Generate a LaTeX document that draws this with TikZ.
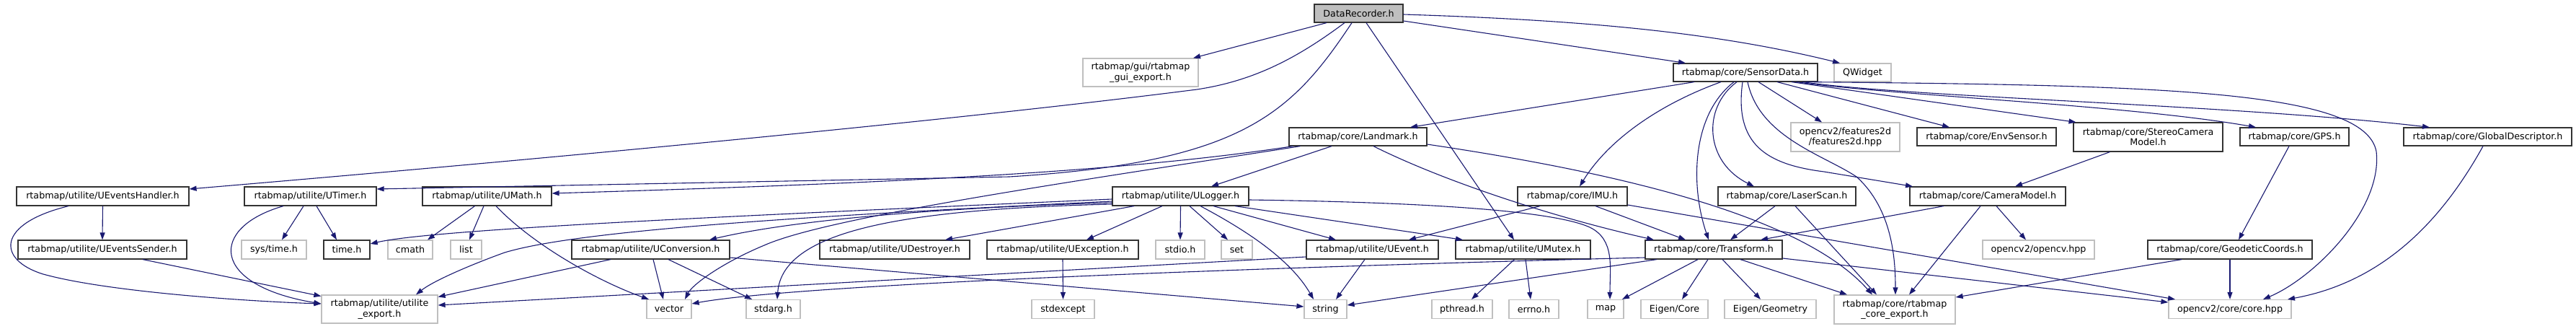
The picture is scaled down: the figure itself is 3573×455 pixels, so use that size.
\documentclass[tikz,border=0pt]{standalone}
\usepackage{fontspec}
\setmainfont{DejaVu Sans}
\usetikzlibrary{arrows.meta,positioning}
\definecolor{edgeblue}{RGB}{25,25,112}
\definecolor{extgray}{RGB}{191,191,191}

\begin{document}
\begin{tikzpicture}[x=1pt, y=-1pt]
    % Styles for the headers
    \tikzstyle{hdr}=[draw=black!80, line width=1.2pt, fill=white, minimum height=26pt, inner sep=0pt, align=center, font=\fontsize{12.7pt}{14.5pt}\selectfont]
    \tikzstyle{ext}=[hdr, draw=extgray]
    \tikzstyle{root}=[hdr, fill=extgray]
    \tikzstyle{inc}=[draw=edgeblue, line width=1.1pt, -{Triangle[length=10pt,width=7pt]}]

    \useasboundingbox (0,0) rectangle (3573,455);

    % Top
    \node[root, minimum width=123pt, minimum height=25pt] (datarec) at (1884.5,18.5) {DataRecorder.h};
    \node[ext, minimum width=160pt, minimum height=39pt] (guiexp) at (1582,100.5) {rtabmap/gui/rtabmap\\\_gui\_export.h};
    \node[hdr, minimum width=200pt, minimum height=25pt] (sensordata) at (2421,100.5) {rtabmap/core/SensorData.h};
    \node[ext, minimum width=79pt, minimum height=25pt] (qwidget) at (2583.5,100.5) {QWidget};

    % Row 2
    \node[hdr, minimum width=191pt, minimum height=25pt] (landmark) at (1883.5,189.5) {rtabmap/core/Landmark.h};
    \node[ext, minimum width=151pt, minimum height=40pt] (feat2d) at (2559.5,190) {opencv2/features2d\\/features2d.hpp};
    \node[hdr, minimum width=193pt, minimum height=25pt] (envsensor) at (2755.5,189.5) {rtabmap/core/EnvSensor.h};
    \node[hdr, minimum width=207pt, minimum height=40pt] (stereo) at (2979.5,190) {rtabmap/core/StereoCamera\\Model.h};
    \node[hdr, minimum width=151pt, minimum height=25pt] (gps) at (3182.5,189.5) {rtabmap/core/GPS.h};
    \node[hdr, minimum width=233pt, minimum height=25pt] (globdesc) at (3450.5,189.5) {rtabmap/core/GlobalDescriptor.h};

    % Row 3
    \node[hdr, minimum width=239pt] (evhandler) at (142.5,272) {rtabmap/utilite/UEventsHandler.h};
    \node[hdr, minimum width=183pt] (utimer) at (430.5,272) {rtabmap/utilite/UTimer.h};
    \node[hdr, minimum width=179pt] (umath) at (675.5,272) {rtabmap/utilite/UMath.h};
    \node[hdr, minimum width=189pt] (ulogger) at (1637.5,272) {rtabmap/utilite/ULogger.h};
    \node[hdr, minimum width=152pt] (imu) at (2181,272) {rtabmap/core/IMU.h};
    \node[hdr, minimum width=191pt] (laserscan) at (2478.5,272) {rtabmap/core/LaserScan.h};
    \node[hdr, minimum width=216pt] (cammodel) at (2757,272) {rtabmap/core/CameraModel.h};

    % Row 4
    \node[hdr, minimum width=234pt] (evsender) at (142,346) {rtabmap/utilite/UEventsSender.h};
    \node[ext, minimum width=90pt] (systime) at (380,346) {sys/time.h};
    \node[hdr, minimum width=64pt] (timeh) at (481,346) {time.h};
    \node[ext, minimum width=62pt] (cmath) at (569,346) {cmath};
    \node[ext, minimum width=43pt] (list) at (646.5,346) {list};
    \node[hdr, minimum width=219pt] (uconv) at (902.5,346) {rtabmap/utilite/UConversion.h};
    \node[hdr, minimum width=208pt] (udestroy) at (1241,346) {rtabmap/utilite/UDestroyer.h};
    \node[hdr, minimum width=210pt] (uexcept) at (1474,346) {rtabmap/utilite/UException.h};
    \node[ext, minimum width=68pt] (stdio) at (1637,346) {stdio.h};
    \node[ext, minimum width=43pt] (stdset) at (1715.5,346) {set};
    \node[hdr, minimum width=183pt] (uevent) at (1903.5,346) {rtabmap/utilite/UEvent.h};
    \node[hdr, minimum width=187pt] (umutex) at (2112.5,346) {rtabmap/utilite/UMutex.h};
    \node[hdr, minimum width=190pt] (transform) at (2377,346) {rtabmap/core/Transform.h};
    \node[ext, minimum width=155pt] (opencvhpp) at (2827.5,346) {opencv2/opencv.hpp};
    \node[hdr, minimum width=228pt] (geodetic) at (3093,346) {rtabmap/core/GeodeticCoords.h};

    % Row 5
    \node[ext, minimum width=161pt, minimum height=39pt] (utilexp) at (526.5,428.5) {rtabmap/utilite/utilite\\\_export.h};
    \node[ext, minimum width=62pt] (vector) at (928,428.5) {vector};
    \node[ext, minimum width=75pt] (stdarg) at (1072.5,428.5) {stdarg.h};
    \node[ext, minimum width=87pt] (stdexcept) at (1474.5,428.5) {stdexcept};
    \node[ext, minimum width=59pt] (string) at (1838.5,428.5) {string};
    \node[ext, minimum width=84pt] (pthread) at (2028,428.5) {pthread.h};
    \node[ext, minimum width=69pt] (errno) at (2127.5,428.5) {errno.h};
    \node[ext, minimum width=50pt] (map) at (2227,428.5) {map};
    \node[ext, minimum width=93pt] (eigencore) at (2322.5,428.5) {Eigen/Core};
    \node[ext, minimum width=127pt] (eigengeom) at (2455.5,428.5) {Eigen/Geometry};
    \node[ext, minimum width=168pt, minimum height=40pt] (coreexp) at (2628,429) {rtabmap/core/rtabmap\\\_core\_export.h};
    \node[ext, minimum width=170pt] (corehpp) at (3093,428.5) {opencv2/core/core.hpp};

    % DataRecorder.h
    \draw[inc] ([xshift=-44.5pt]datarec.south) -- ([xshift=73pt]guiexp.north);
    \draw[inc] ([xshift=-19.5pt]datarec.south) .. controls (1800,80) and (1740,112) .. (1660,124) .. controls (1300,170) and (700,225) .. ([yshift=10pt]evhandler.east);
    \draw[inc] ([xshift=-9.5pt]datarec.south) .. controls (1790,160) and (1720,225) .. (1400,245) -- ([yshift=10pt]utimer.east);
    \draw[inc] ([xshift=10.5pt]datarec.south) -- ([xshift=-12.5pt]umutex.north);
    \draw[inc] ([yshift=-10.5pt]datarec.east) -- ([xshift=-83pt]sensordata.north);
    \draw[inc] ([yshift=-1.5pt]datarec.east) .. controls (2200,28) and (2380,45) .. ([xshift=-31.5pt]qwidget.north);

    % SensorData.h
    \draw[inc] ([xshift=-71pt]sensordata.south) -- ([xshift=72.5pt]landmark.north);
    \draw[inc] ([xshift=-34pt]sensordata.south) .. controls (2300,145) and (2230,195) .. ([xshift=10pt]imu.north);
    \draw[inc] ([xshift=-16pt]sensordata.south) .. controls (2345,160) and (2345,260) .. ([xshift=-7pt]transform.north);
    \draw[inc] ([xshift=-12pt]sensordata.south) .. controls (2360,150) and (2365,225) .. ([xshift=-45.5pt]laserscan.north);
    \draw[inc] ([xshift=-4pt]sensordata.south) .. controls (2405,200) and (2450,228) .. (2530,238) -- ([xshift=-104pt]cammodel.north);
    \draw[inc] ([xshift=3pt]sensordata.south) .. controls (2440,190) and (2530,215) .. (2575,245) .. controls (2625,290) and (2629,360) .. ([xshift=1pt]coreexp.north);
    \draw[inc] ([xshift=18pt]sensordata.south) -- ([xshift=-32.5pt]feat2d.north);
    \draw[inc] ([xshift=44pt]sensordata.south) -- ([xshift=-51.5pt]envsensor.north);
    \draw[inc] ([xshift=64pt]sensordata.south) -- ([xshift=-100pt]stereo.north);
    \draw[inc] ([xshift=71pt]sensordata.south) .. controls (2620,132) and (2950,145) .. ([xshift=-53.5pt]gps.north);
    \draw[inc] ([xshift=79pt]sensordata.south) .. controls (2650,135) and (3100,145) .. ([xshift=-80.5pt]globdesc.north);
    \draw[inc] ([xshift=84pt]sensordata.south) .. controls (3000,118) and (3280,125) .. (3296,210) .. controls (3305,290) and (3210,385) .. ([xshift=46pt]corehpp.north);

    % Landmark.h
    \draw[inc] ([xshift=-90pt]landmark.south) .. controls (1550,240) and (1200,255) .. ([yshift=4pt]umath.east);
    \draw[inc] ([xshift=-80pt]landmark.south) .. controls (1500,250) and (1150,300) .. (1060,340) .. controls (1000,365) and (960,395) .. ([xshift=22pt]vector.north);
    \draw[inc] ([xshift=-36.5pt]landmark.south) -- ([xshift=42.5pt]ulogger.north);
    \draw[inc] ([xshift=21.5pt]landmark.south) .. controls (2000,250) and (2150,300) .. ([xshift=-83pt]transform.north);
    \draw[inc] ([yshift=-10.5pt]landmark.east) .. controls (2250,240) and (2500,300) .. ([xshift=-31pt]coreexp.north);

    % UEventsHandler.h, UTimer.h, UMath.h
    \draw[inc] (evhandler.south) -- (evsender.north);
    \draw[inc] ([xshift=-47.5pt]evhandler.south) .. controls (-5,310) and (-5,360) .. (60,380) .. controls (150,405) and (350,418) .. ([yshift=7.5pt]utilexp.west);
    \draw[inc] ([xshift=56pt]evsender.south) -- ([yshift=18pt]utilexp.west);
    \draw[inc] ([xshift=-9.5pt]utimer.south) -- ([xshift=11pt]systime.north);
    \draw[inc] ([xshift=8.5pt]utimer.south) -- ([xshift=-14pt]timeh.north);
    \draw[inc] ([xshift=-37.5pt]utimer.south) .. controls (290,315) and (290,395) .. ([yshift=7.5pt]utilexp.west);
    \draw[inc] ([xshift=-17pt]umath.south) -- ([xshift=24pt]cmath.north);
    \draw[inc] ([xshift=-4.5pt]umath.south) -- ([xshift=4.5pt]list.north);
    \draw[inc] ([xshift=12.5pt]umath.south) .. controls (740,340) and (830,390) .. ([xshift=-28pt]vector.north);

    % ULogger.h
    \draw[inc] ([yshift=-4pt]ulogger.west) .. controls (1000,300) and (600,318) .. ([yshift=8pt]timeh.east);
    \draw[inc] ([yshift=-7pt]ulogger.west) .. controls (1100,300) and (800,320) .. (700,350) .. controls (650,368) and (600,390) .. ([xshift=50.5pt]utilexp.north);
    \draw[inc] ([yshift=-9pt]ulogger.west) .. controls (1300,288) and (1100,305) .. ([xshift=81.5pt]uconv.north);
    \draw[inc] ([yshift=-11pt]ulogger.west) .. controls (1250,290) and (1085,320) .. ([xshift=5.5pt]stdarg.north);
    \draw[inc] ([xshift=-64.5pt]ulogger.south) -- ([xshift=70pt]udestroy.north);
    \draw[inc] ([xshift=-25.5pt]ulogger.south) -- ([xshift=33pt]uexcept.north);
    \draw[inc] (ulogger.south) -- (stdio.north);
    \draw[inc] ([xshift=12.5pt]ulogger.south) -- ([xshift=-12.5pt]stdset.north);
    \draw[inc] ([xshift=27.5pt]ulogger.south) .. controls (1730,320) and (1790,360) .. ([xshift=-16.5pt]string.north);
    \draw[inc] ([xshift=45.5pt]ulogger.south) -- ([xshift=-50.5pt]uevent.north);
    \draw[inc] ([xshift=75.5pt]ulogger.south) -- ([xshift=-83.5pt]umutex.north);
    \draw[inc] ([yshift=-5pt]ulogger.east) .. controls (1950,280) and (2150,290) .. (2205,315) .. controls (2240,332) and (2233,370) .. ([xshift=6pt]map.north);

    % UConversion.h, UException.h, UEvent.h, UMutex.h
    \draw[inc] ([xshift=-55.5pt]uconv.south) -- ([yshift=17pt]utilexp.east);
    \draw[inc] ([xshift=3.5pt]uconv.south) -- ([xshift=-8pt]vector.north);
    \draw[inc] ([xshift=24.5pt]uconv.south) -- ([xshift=-29.5pt]stdarg.north);
    \draw[inc] ([yshift=-11pt]uconv.east) -- ([yshift=3.5pt]string.west);
    \draw[inc] (uexcept.south) -- (stdexcept.north);
    \draw[inc] ([xshift=-10.5pt]uevent.south) -- ([xshift=14.5pt]string.north);
    \draw[inc] ([yshift=-10pt]uevent.west) -- ([yshift=5.5pt]utilexp.east);
    \draw[inc] ([xshift=-12pt]umutex.south) -- ([xshift=13pt]pthread.north);
    \draw[inc] ([xshift=3.5pt]umutex.south) -- ([xshift=-4.5pt]errno.north);

    % IMU.h, LaserScan.h, CameraModel.h
    \draw[inc] ([xshift=-45pt]imu.south) -- ([xshift=50.5pt]uevent.north);
    \draw[inc] ([xshift=32pt]imu.south) -- ([xshift=-39pt]transform.north);
    \draw[inc] ([yshift=-12pt]imu.east) -- ([xshift=-76pt]corehpp.north);
    \draw[inc] ([xshift=-16.5pt]laserscan.south) -- ([xshift=23pt]transform.north);
    \draw[inc] ([xshift=11.5pt]laserscan.south) -- ([xshift=-25pt]coreexp.north);
    \draw[inc] ([xshift=-61pt]cammodel.south) -- ([xshift=65pt]transform.north);
    \draw[inc] ([xshift=-10pt]cammodel.south) -- ([xshift=20pt]coreexp.north);
    \draw[inc] ([xshift=12pt]cammodel.south) -- ([xshift=-17.5pt]opencvhpp.north);

    % StereoCameraModel.h, GPS.h, GeodeticCoords.h, GlobalDescriptor.h
    \draw[inc] ([xshift=-53pt]stereo.south) -- ([xshift=38pt]cammodel.north);
    \draw[inc] ([xshift=-7.5pt]gps.south) -- ([xshift=12pt]geodetic.north);
    \draw[inc] ([xshift=-67pt]geodetic.south) -- ([yshift=17pt]coreexp.east);
    \draw[inc] (geodetic.south) -- (corehpp.north);
    \draw[inc] ([xshift=-6.5pt]globdesc.south) .. controls (3390,300) and (3310,390) .. ([xshift=80pt]corehpp.north);

    % Transform.h
    \draw[inc] ([yshift=-11pt]transform.west) .. controls (1700,372) and (1100,395) .. ([yshift=7.5pt]vector.east);
    \draw[inc] ([xshift=-79pt]transform.south) -- ([yshift=5.5pt]string.east);
    \draw[inc] ([xshift=-22pt]transform.south) -- ([xshift=23pt]map.north);
    \draw[inc] ([xshift=-8pt]transform.south) -- ([xshift=10.5pt]eigencore.north);
    \draw[inc] ([xshift=12pt]transform.south) -- ([xshift=-13.5pt]eigengeom.north);
    \draw[inc] ([xshift=37pt]transform.south) -- ([xshift=-66pt]coreexp.north);
    \draw[inc] ([yshift=-12pt]transform.east) -- ([yshift=9.5pt]corehpp.west);
\end{tikzpicture}
\end{document}
